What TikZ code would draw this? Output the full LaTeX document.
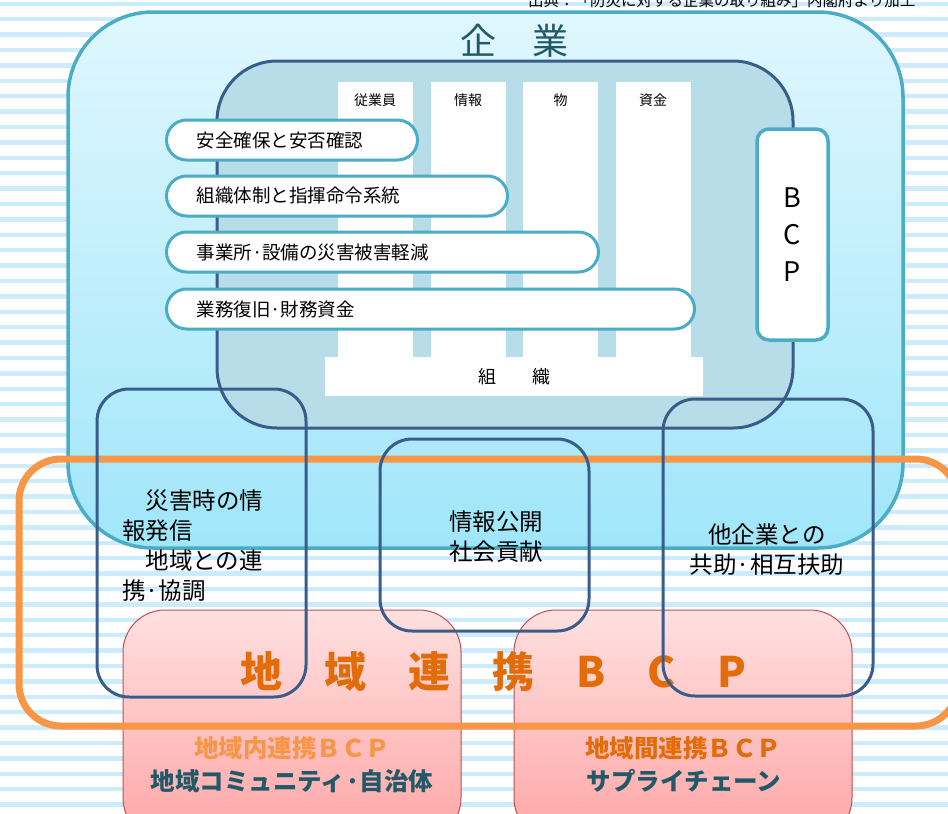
\documentclass[tikz,border=0pt]{standalone}
\usepackage{fontspec}
\setmainfont{Noto Sans CJK JP}
\usepackage{xcolor}
\definecolor{4bacc6}{HTML}{4BACC6}
\definecolor{385d8a}{HTML}{385D8A}
\definecolor{f79646}{HTML}{F79646}
\definecolor{e36c09}{HTML}{E36C09}
\definecolor{c0504d}{HTML}{C0504D}
\definecolor{215968}{HTML}{215968}
\definecolor{b7dde8}{HTML}{B7DDE8}
\definecolor{ccebfc}{HTML}{CCEBFC}
\definecolor{e0f7fe}{HTML}{E0F7FE}
\definecolor{a0e6fa}{HTML}{A0E6FA}
\definecolor{ffe0e0}{HTML}{FFE0E0}
\definecolor{ffa6a6}{HTML}{FFA6A6}
\usepackage{tikz}
\usetikzlibrary{positioning}

\begin{document}
\begin{tikzpicture}[x=1pt, y=-1pt,
    pill/.style={draw=4bacc6, line width=3pt, fill=white, rounded corners=20pt, minimum height=40pt,
                 inner xsep=30pt, inner ysep=0pt, anchor=west, align=left, font=\fontsize{18.5}{20}\selectfont},
    column/.style={fill=white, minimum width=75pt, minimum height=275pt},
    heading/.style={inner sep=0pt, font=\fontsize{14}{16}\selectfont},
    pinkbox/.style={draw=c0504d, line width=1pt, rounded corners=42pt, top color=ffe0e0, bottom color=ffa6a6,
                    minimum width=338pt, minimum height=230pt},
    bluebox/.style={draw=385d8a, line width=3pt, rounded corners=32pt},
    boxtext/.style={inner sep=0pt, font=\fontsize{23.5}{30}\selectfont},
    labeltext/.style={inner sep=0pt, font=\fontsize{24.5}{26}\selectfont\bfseries}]
    \useasboundingbox (0,0) rectangle (948,814);

    % striped background
    \foreach \i in {0,...,52}
        \fill[color=ccebfc] (0,1.5+15.4*\i) rectangle (948,6+15.4*\i);

    \node (source) at (528,6) [anchor=base west, inner sep=0pt, font=\fontsize{15.5}{16}\selectfont] {出典：「防災に対する企業の取り組み」内閣府より加工};

    % company
    \node (kigyo) at (485.5,280) [draw=4bacc6, line width=3.5pt, rounded corners=85pt, top color=e0f7fe, bottom color=a0e6fa,
                                  minimum width=835pt, minimum height=536pt] {};
    \node (title) at (514,41) [color=215968, font=\fontsize{36}{40}\selectfont] {企　業};

    \node (soshiki) at (505,244.5) [draw=385d8a, line width=3pt, fill=b7dde8, rounded corners=60pt,
                                    minimum width=576pt, minimum height=367pt] {};

    \node (c1) at (375,219.5) [column] {};
    \node (c2) at (468,219.5) [column] {};
    \node (c3) at (560.5,219.5) [column] {};
    \node (c4) at (653,219.5) [column] {};
    \node (h1) [below=12pt of c1.north, heading] {従業員};
    \node (h2) [below=12pt of c2.north, heading] {情報};
    \node (h3) [below=12pt of c3.north, heading] {物};
    \node (h4) [below=12pt of c4.north, heading] {資金};

    \node (bar) at (514,376.5) [fill=white, minimum width=378pt, minimum height=39pt, font=\fontsize{18}{20}\selectfont] {組　　織};

    \node (e1) at (165,140) [pill, text width=191pt] {安全確保と安否確認};
    \node (e2) at (165,196) [pill, text width=281pt] {組織体制と指揮命令系統};
    \node (e3) at (165,252) [pill, text width=372pt] {事業所·設備の災害被害軽減};
    \node (e4) at (165,309) [pill, text width=468pt] {業務復旧·財務資金};

    \node (bcp) at (792.5,234.5) [draw=4bacc6, line width=3.5pt, fill=white, rounded corners=12pt,
                                  minimum width=71pt, minimum height=211pt, align=center,
                                  font=\fontsize{27}{37}\selectfont] {B\\C\\P};

    % regional cooperation
    \node (naibox) at (292,725) [pinkbox] {};
    \node (kanbox) at (683,725) [pinkbox] {};

    \node (renkei) at (488.5,592.5) [draw=f79646, line width=7pt, rounded corners=42pt,
                                     minimum width=939pt, minimum height=267pt] {};
    \node (renkeitxt) at (493.5,672) [color=e36c09, inner sep=0pt, font=\fontsize{42}{46}\selectfont\bfseries] {地　域　連　携　B　C　P};

    \node (lbox) at (201.5,543) [bluebox, minimum width=209pt, minimum height=308pt] {};
    \node (mbox) at (484.5,535) [bluebox, minimum width=209pt, minimum height=192pt] {};
    \node (rbox) at (768,547.5) [bluebox, minimum width=210pt, minimum height=297pt] {};

    \node (ltxt) at (122,546) [anchor=west, align=left, boxtext] {　災害時の情\\報発信\\　地域との連\\携·協調};
    \node (mtxt) at (496,537) [align=center, boxtext] {情報公開\\社会貢献};
    \node (rtxt) at (767,550) [align=center, boxtext] {他企業との\\共助·相互扶助};

    \node (nai) at (292,748) [color=f79646, labeltext] {地域内連携ＢＣＰ};
    \node (jichi) at (292,781) [color=215968, labeltext] {地域コミュニティ·自治体};
    \node (kan) at (683,748) [color=e36c09, labeltext] {地域間連携ＢＣＰ};
    \node (supply) at (684,781) [color=215968, labeltext] {サプライチェーン};
\end{tikzpicture}
\end{document}
